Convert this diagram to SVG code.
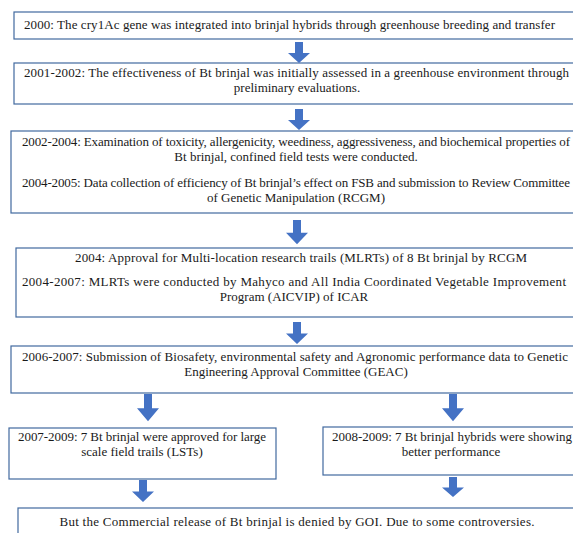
<svg xmlns="http://www.w3.org/2000/svg" width="573" height="533" viewBox="0 0 573 533">
<style>
.box{fill:#ffffff;stroke:#41699f;stroke-width:1.2}
.t{font-size:13px;fill:#1a1a1a;text-anchor:middle}
.ar{fill:#4472C4}
</style>
<defs>
<path id="arw" d="M-4,0 H4 V11 H11 L0,21 L-11,11 H-4 Z"/>
</defs>
<rect width="573" height="533" fill="#ffffff"/>
<g font-family="'Liberation Serif', 'DejaVu Serif', serif">
<g id="n1"><rect class="box" x="14" y="12" width="570" height="27"/>
<text class="t" x="289.5" y="29" textLength="531">2000: The cry1Ac gene was integrated into brinjal hybrids through greenhouse breeding and transfer</text></g>
<g id="n2"><rect class="box" x="14" y="63" width="570" height="41"/>
<text class="t" x="296.5" y="77" textLength="545">2001-2002: The effectiveness of Bt brinjal was initially assessed in a greenhouse environment through</text>
<text class="t" x="297" y="92">preliminary evaluations.</text></g>
<g id="n3"><rect class="box" x="11" y="131" width="573" height="82"/>
<text class="t" x="296" y="146" textLength="548">2002-2004: Examination of toxicity, allergenicity, weediness, aggressiveness, and biochemical properties  of</text>
<text class="t" x="296" y="161">Bt brinjal, confined field tests were conducted.</text>
<text class="t" x="296" y="187" textLength="548">2004-2005: Data collection of efficiency of Bt brinjal’s effect on FSB and submission to Review Committee</text>
<text class="t" x="296" y="202">of Genetic Manipulation (RCGM)</text></g>
<g id="n4"><rect class="box" x="16" y="248" width="568" height="69"/>
<text class="t" x="301" y="262" textLength="452">2004: Approval for Multi-location research trails (MLRTs) of 8 Bt brinjal by RCGM</text>
<text class="t" x="294" y="286" textLength="544">2004-2007: MLRTs were conducted by Mahyco and All India Coordinated Vegetable Improvement</text>
<text class="t" x="294" y="301">Program (AICVIP) of ICAR</text></g>
<g id="n5"><rect class="box" x="11" y="346" width="573" height="47"/>
<text class="t" x="295" y="361" textLength="546">2006-2007: Submission of Biosafety, environmental safety and Agronomic performance data to Genetic</text>
<text class="t" x="296" y="376">Engineering Approval Committee (GEAC)</text></g>
<g id="n6"><rect class="box" x="9" y="428" width="267" height="51"/>
<text class="t" x="142" y="441" textLength="248">2007-2009: 7 Bt brinjal were approved for large</text>
<text class="t" x="142" y="456">scale field trails (LSTs)</text></g>
<g id="n7"><rect class="box" x="323" y="427" width="260" height="48"/>
<text class="t" x="452" y="441" textLength="240">2008-2009: 7 Bt brinjal hybrids were showing</text>
<text class="t" x="451" y="456">better performance</text></g>
<g id="n8"><rect class="box" x="18" y="508" width="566" height="40"/>
<text class="t" x="297" y="526" textLength="475">But the Commercial release of Bt brinjal is denied by GOI. Due to some controversies.</text></g>
</g>
<g id="connectors">
<use class="ar" href="#arw" transform="translate(299,42)"/>
<use class="ar" href="#arw" transform="translate(299,109)"/>
<use class="ar" href="#arw" transform="translate(297,220) scale(1,1.15)"/>
<use class="ar" href="#arw" transform="translate(297,322) scale(1,1.05)"/>
<use class="ar" href="#arw" transform="translate(148,394) scale(1,1.3)"/>
<use class="ar" href="#arw" transform="translate(453,394) scale(1,1.3)"/>
<use class="ar" href="#arw" transform="translate(143,480) scale(1,1.05)"/>
<use class="ar" href="#arw" transform="translate(453,477) scale(1,0.95)"/>
</g>
</svg>
